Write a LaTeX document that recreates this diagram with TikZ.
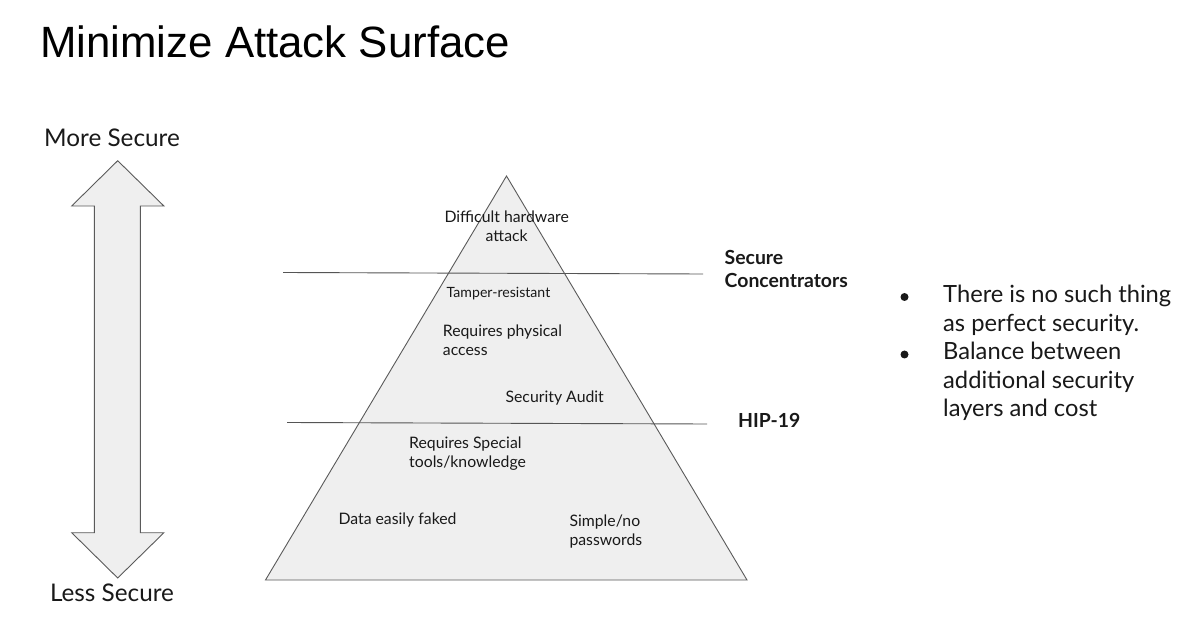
\documentclass[tikz,border=0pt]{standalone}
\usepackage{fontspec}
\setmainfont{Lato}
\newfontfamily\titlefont{Liberation Sans}
\definecolor{shapefill}{HTML}{EFEFEF}
\definecolor{shapeline}{HTML}{5A5A5A}
\definecolor{sepcol}{HTML}{555555}
\begin{document}
\begin{tikzpicture}[x=1pt,y=-1pt,
  graybox/.style={fill=shapefill,draw=shapeline,line width=0.9pt,line join=miter},
  divider/.style={draw=sepcol,line width=0.9pt},
  lbl/.style={inner sep=0pt,font=\fontsize{15.8}{18.8}\selectfont,text=black!90},
  side/.style={inner sep=0pt,font=\fontsize{24.3}{28}\selectfont,text=black!90},
  layer/.style={inner sep=0pt,font=\fontsize{19.4}{22.5}\selectfont\bfseries,text=black!90,align=left,anchor=west},
  bulletdot/.style={circle,fill=black!90,inner sep=0pt,minimum size=8pt}]
\fill[white] (0,0) rectangle (1200,620);
\useasboundingbox (0,0) rectangle (1200,620);
% title
\node[anchor=west,inner sep=0pt,font=\titlefont\fontsize{43.8}{50}\selectfont] (title) at (40,42) {Minimize Attack Surface};
% double arrow
\draw[graybox] (117.7,160.7) -- (163.9,206) -- (140.3,206) -- (140.3,532.7) -- (163.9,532.7)
  -- (117.7,578) -- (71.7,532.7) -- (94.3,532.7) -- (94.3,206) -- (71.7,206) -- cycle;
\node[side] (more) at (112,138) {More Secure};
\node[side] (less) at (112,592.5) {Less Secure};
% pyramid
\coordinate (apex) at (506.5,176);
\coordinate (bl) at (265.5,580);
\coordinate (br) at (747,580);
\draw[graybox] (apex) -- (br) -- (bl) -- cycle;
\coordinate (s1a) at (283,272.5);
\coordinate (s1b) at (703,274);
\coordinate (s2a) at (287,422.5);
\coordinate (s2b) at (707,424);
\draw[divider] (s1a) -- (s1b);
\draw[divider] (s2a) -- (s2b);
% labels in pyramid
\node[lbl,align=center] (hw) at (506.7,226) {Difficult hardware\\attack};
\node[lbl,font=\fontsize{14.1}{17}\selectfont] (tamper) at (498.5,294) {Tamper-resistant};
\node[lbl,align=left,anchor=west] (phys) at (442.7,340.5) {Requires physical\\access};
\node[lbl] (audit) at (554.7,397.7) {Security Audit};
\node[lbl,align=left,anchor=west] (tools) at (409,454) {Requires Special\\tools/knowledge};
\node[lbl,anchor=west] (faked) at (338.3,520) {Data easily faked};
\node[lbl,align=left,anchor=west] (simple) at (569.3,531.7) {Simple/no\\passwords};
% layer labels
\node[layer] (conc) at (724.5,269) {Secure\\Concentrators};
\node[layer] (hip) at (738,420) {HIP-19};
% bullets
\node[side,align=left,anchor=west,font=\fontsize{23.7}{28.6}\selectfont] (points) at (943,353) {There is no such thing\\as perfect security.\\Balance between\\additional security\\layers and cost};
\node[bulletdot] (b1) at (904.5,297) {};
\node[bulletdot] (b2) at (904.5,354.5) {};
\end{tikzpicture}
\end{document}
